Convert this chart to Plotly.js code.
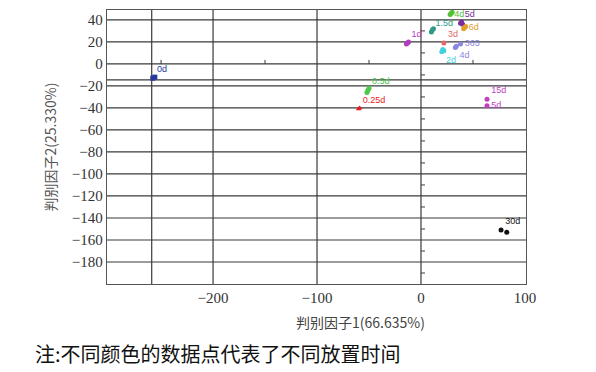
<!DOCTYPE html>
<html><head><meta charset="utf-8">
<script src="https://cdn.plot.ly/plotly-3.0.1.min.js"></script>
<style>html,body{margin:0;padding:0;background:#fff}#chart{width:596px;height:372px}</style>
</head><body><div id="chart"></div>
<script>
// Group labels (storage time) and sample coordinates on the two discriminant factors
const groupLabels = ['0d','0.25d','0.5d','1d','1.5d','2d','3d','4d','5d','6d','4d','365','15d','5d','30d'];
const groupColors = ['#27399a','#e41a1c','#4cc94c','#b23cc0','#2f9a8a','#45d0dd','#e06a6a','#52c234','#7b2da0','#e0a030','#8a86e0','#8a86e0','#c040c0','#c040c0','#111111'];
const groupSymbols = ['square','triangle-up','circle','circle','circle','circle','circle','circle','circle','circle','circle','circle','circle','circle','circle'];
const labelPositions = ['top right','top right','top right','top right','top right','bottom right','top right','middle right','top right','middle right','bottom right','middle right','top right','middle right','top right'];
const factor1 = [
  [-258,-256],
  [-60,-59],
  [-51,-52,-50],
  [-13,-12,-14],
  [10,11,12],
  [20,22,21],
  [22],
  [28,29,30],
  [38,39,40],
  [42,43,41],
  [33,34],
  [38],
  [63.5],
  [63.5],
  [77,82.5]
];
const factor2 = [
  [-13,-12],
  [-41,-40],
  [-24,-26,-22],
  [19,20,18],
  [29,31,32],
  [11,12,13],
  [19],
  [45,46,47],
  [37,38,36],
  [33,34,32],
  [15,16],
  [18],
  [-32],
  [-38],
  [-151,-153]
];
const xTickVals = [-200,-100,0,100];
const xTickText = ['\u2212200','\u2212100','0','100'];
const yTickVals = [40,20,0,-20,-40,-60,-80,-100,-120,-140,-160,-180];
const yTickText = ['40','20','0','\u221220','\u221240','\u221260','\u221280','\u2212100','\u2212120','\u2212140','\u2212160','\u2212180'];
const extraVLines = [-259];
const extraHLines = [-14.5];
const xMinorTicks = [-250,-150,-50,50];
const yMinorTicks = [30,10,-10,-30,-50,-70,-90,-110,-130,-150,-170,-190];

const traces = groupLabels.map((g,i)=>({
  type:'scatter', mode:'markers+text',
  x: factor1[i], y: factor2[i],
  text: factor1[i].map((_,k)=> k===0 ? g : ''),
  textposition: labelPositions[i],
  textfont:{family:'Liberation Sans, Arial, sans-serif', size:9, color:groupColors[i]},
  marker:{color:groupColors[i], size:5, symbol:groupSymbols[i]},
  cliponaxis:false, showlegend:false, hoverinfo:'skip'
}));

const gridColor = '#3a3a3a';
const shapes = [];
yTickVals.forEach(v=>shapes.push({type:'line',xref:'paper',yref:'y',x0:0,x1:1,y0:v,y1:v,line:{color:gridColor,width:1.2},layer:'below'}));
extraHLines.forEach(v=>shapes.push({type:'line',xref:'paper',yref:'y',x0:0,x1:1,y0:v,y1:v,line:{color:gridColor,width:1.2},layer:'below'}));
[-200,-100,0].concat(extraVLines).forEach(v=>shapes.push({type:'line',xref:'x',yref:'paper',x0:v,x1:v,y0:0,y1:1,line:{color:gridColor,width:1.2},layer:'below'}));
xMinorTicks.forEach(v=>shapes.push({type:'line',xref:'x',yref:'y',xsizemode:'scaled',ysizemode:'pixel',yanchor:0,x0:v,x1:v,y0:0,y1:4,line:{color:gridColor,width:1},layer:'below'}));
yMinorTicks.forEach(v=>shapes.push({type:'line',xref:'x',yref:'y',xsizemode:'pixel',xanchor:0,x0:0,x1:4,y0:v,y1:v,line:{color:gridColor,width:1},layer:'below'}));

const tickFont = {family:'Liberation Serif, Times New Roman, serif', size:15, color:'#333'};
const layout = {
  width:596, height:372,
  margin:{l:107, r:70, t:10, b:88},
  paper_bgcolor:'#fff', plot_bgcolor:'#fff',
  xaxis:{range:[-302,101], tickvals:xTickVals, ticktext:xTickText, showgrid:false, zeroline:false,
    showline:true, mirror:true, linecolor:'#555', linewidth:1.2, ticks:'', tickfont:tickFont, ticklen:0},
  yaxis:{range:[-200,49], tickvals:yTickVals, ticktext:yTickText, showgrid:false, zeroline:false,
    showline:true, mirror:true, linecolor:'#555', linewidth:1.2, ticks:'', tickfont:tickFont,
    title:{text:'判别因子2(25.330%)', font:{family:'Noto Sans CJK SC, sans-serif', size:14, color:'#555'}, standoff:12}},
  shapes:shapes,
  annotations:[
    {xref:'paper', yref:'paper', x:0.605, y:-0.095, xanchor:'center', yanchor:'top', showarrow:false,
     text:'判别因子1(66.635%)', font:{family:'Noto Sans CJK SC, sans-serif', size:14, color:'#444'}},
    {xref:'paper', yref:'paper', x:-0.177, y:-0.195, xanchor:'left', yanchor:'top', showarrow:false,
     text:'注:不同颜色的数据点代表了不同放置时间', font:{family:'Noto Sans CJK SC, sans-serif', size:20, color:'#111'}}
  ]
};
Plotly.newPlot('chart', traces, layout, {displayModeBar:false, staticPlot:true});
</script></body></html>
